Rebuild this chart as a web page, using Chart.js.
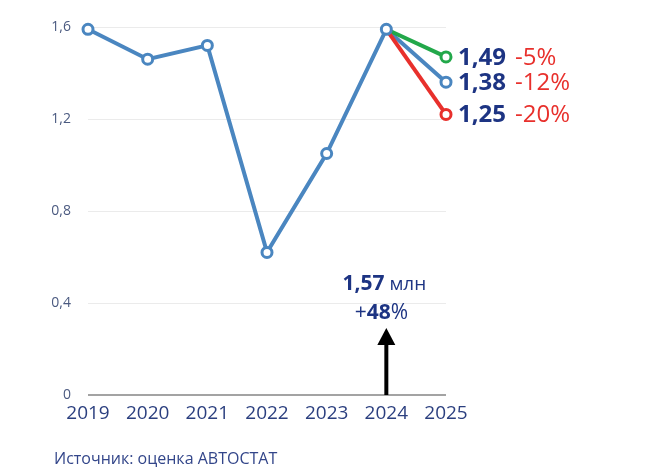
<!DOCTYPE html>
<html>
<head>
<meta charset="utf-8">
<script src="https://cdn.jsdelivr.net/npm/chart.js@4/dist/chart.umd.min.js"></script>
<style>
html,body{margin:0;padding:0;background:#fff;}
#wrap{width:670px;height:470px;position:relative;}
</style>
</head>
<body>
<div id="wrap"><canvas id="c" width="670" height="470"></canvas></div>
<script>
const years = ['2019','2020','2021','2022','2023','2024','2025'];
const sales = [1.59, 1.46, 1.52, 0.62, 1.05, 1.59, null];
const scenarioValues = [1.47, 1.36, 1.22];
const scenarioLabels = ['1,49', '1,38', '1,25'];
const scenarioChanges = ['-5%', '-12%', '-20%'];
const scenarioColors = ['#22a84a', '#4a86c0', '#e8302c'];
const yTicks = [0, 0.4, 0.8, 1.2, 1.6];
const annotationValue = '1,57';
const annotationUnit = ' млн';
const annotationChange = '48';
const sourceText = 'Источник: оценка АВТОСТАТ';

const FONT = '"Open Sans", "DejaVu Sans", sans-serif';
const NAVY = '#1d3483';

function scenarioSeries(v){
  const arr = years.map(()=>null);
  arr[5] = sales[5];
  arr[6] = v;
  return arr;
}

// draw order: blue scenario, green, red, then main line on top
const scenarioOrder = [1, 0, 2];
const datasets = scenarioOrder.map(i => ({
  data: scenarioSeries(scenarioValues[i]),
  borderColor: scenarioColors[i],
  borderWidth: 4,
  pointRadius: ctx => ctx.dataIndex === 6 ? 5 : 0,
  pointBorderWidth: 3,
  pointBackgroundColor: '#ffffff',
  pointBorderColor: scenarioColors[i],
  tension: 0,
  clip: false
}));
datasets.push({
  data: sales,
  borderColor: '#4a86c0',
  borderWidth: 4,
  pointRadius: 5,
  pointBorderWidth: 3,
  pointBackgroundColor: '#ffffff',
  pointBorderColor: '#4a86c0',
  tension: 0,
  clip: false
});
// datasets are drawn from last to first in Chart.js for line charts? ensure explicit order
datasets.forEach((d, k) => { d.order = datasets.length - k; });

const overlay = {
  id: 'overlay',
  afterDraw(chart){
    const ctx = chart.ctx;
    const xs = chart.scales.x, ys = chart.scales.y;
    ctx.save();
    scenarioValues.forEach((v, i) => {
      const py = ys.getPixelForValue(v);
      const by = py + 8;
      ctx.textAlign = 'left';
      ctx.textBaseline = 'alphabetic';
      ctx.font = 'bold 24px ' + FONT;
      ctx.fillStyle = NAVY;
      ctx.fillText(scenarioLabels[i], 458, by);
      ctx.font = '24px ' + FONT;
      ctx.fillStyle = '#e8302c';
      ctx.fillText(scenarioChanges[i], 515, by);
    });
    const ax = xs.getPixelForValue(5);
    const y0 = ys.getPixelForValue(0);
    const tip = y0 - 67;
    ctx.strokeStyle = '#000';
    ctx.lineWidth = 4;
    ctx.beginPath();
    ctx.moveTo(ax, y0);
    ctx.lineTo(ax, tip + 14);
    ctx.stroke();
    ctx.fillStyle = '#000';
    ctx.beginPath();
    ctx.moveTo(ax, tip);
    ctx.lineTo(ax - 9, tip + 17);
    ctx.lineTo(ax + 9, tip + 17);
    ctx.closePath();
    ctx.fill();
    ctx.textBaseline = 'alphabetic';
    ctx.textAlign = 'left';
    ctx.fillStyle = NAVY;
    ctx.font = 'bold 21px ' + FONT;
    const w1 = ctx.measureText(annotationValue).width;
    ctx.font = '19px ' + FONT;
    const w2 = ctx.measureText(annotationUnit).width;
    let sx = ax - 2 - (w1 + w2) / 2;
    ctx.font = 'bold 21px ' + FONT;
    ctx.fillText(annotationValue, sx, tip - 38);
    ctx.font = '19px ' + FONT;
    ctx.fillText(annotationUnit, sx + w1, tip - 38);
    ctx.font = '21px ' + FONT;
    const p1 = ctx.measureText('+').width;
    ctx.font = 'bold 21px ' + FONT;
    const p2 = ctx.measureText(annotationChange).width;
    ctx.font = '21px ' + FONT;
    const p3 = ctx.measureText('%').width;
    sx = ax - 5 - (p1 + p2 + p3) / 2;
    ctx.fillText('+', sx, tip - 9);
    ctx.font = 'bold 21px ' + FONT;
    ctx.fillText(annotationChange, sx + p1, tip - 9);
    ctx.font = '21px ' + FONT;
    ctx.fillText('%', sx + p1 + p2, tip - 9);
    ctx.font = '16px ' + FONT;
    ctx.fillStyle = '#33468a';
    ctx.textBaseline = 'middle';
    ctx.fillText(sourceText, 54, 459);
    ctx.restore();
  }
};

new Chart(document.getElementById('c'), {
  type: 'line',
  data: { labels: years, datasets },
  options: {
    responsive: false,
    animation: false,
    events: [],
    layout: { padding: { left: 0, right: 224, top: 27, bottom: 0 } },
    plugins: { legend: { display: false }, tooltip: { enabled: false } },
    scales: {
      x: {
        offset: false,
        grid: { display: false, drawTicks: false },
        border: { display: false },
        ticks: { color: '#2b3f7f', font: { family: FONT, size: 19 }, padding: 7, maxRotation: 0, autoSkip: false },
        afterFit(s){ s.height = 75; }
      },
      y: {
        min: 0, max: 1.6,
        afterBuildTicks(s){ s.ticks = yTicks.map(v => ({ value: v })); },
        grid: {
          drawTicks: false,
          color: c => c.tick && c.tick.value === 0 ? '#a3a3a3' : '#ebebeb',
          lineWidth: c => c.tick && c.tick.value === 0 ? 2 : 1
        },
        border: { display: false },
        ticks: {
          color: '#4b5a80',
          font: { family: FONT, size: 14 },
          padding: 17,
          callback: v => String(v).replace('.', ',')
        },
        afterFit(s){ s.width = 88; }
      }
    }
  },
  plugins: [overlay]
});
</script>
</body>
</html>
